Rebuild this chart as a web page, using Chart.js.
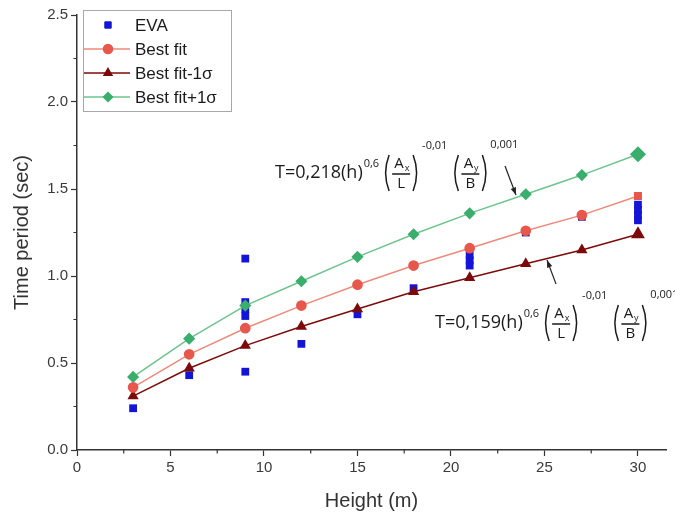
<!DOCTYPE html>
<html>
<head>
<meta charset="utf-8">
<script src="https://cdn.jsdelivr.net/npm/chart.js@4.4.1/dist/chart.umd.min.js"></script>
<style>
  html, body { margin: 0; padding: 0; background: #fff; }
  #wrap { width: 675px; height: 515px; position: relative; }
</style>
</head>
<body>
<div id="wrap"><canvas id="period-chart"></canvas></div>
<script>
const heights = [3, 6, 9, 12, 15, 18, 21, 24, 27, 30];
const bestFit = [0.36, 0.55, 0.7, 0.83, 0.95, 1.06, 1.16, 1.26, 1.35, 1.46];
const bestFitMinus = [0.31, 0.47, 0.6, 0.71, 0.81, 0.91, 0.99, 1.07, 1.15, 1.24];
const bestFitPlus = [0.42, 0.64, 0.83, 0.97, 1.11, 1.24, 1.36, 1.47, 1.58, 1.7];
const evaHeights = [3, 6, 9, 9, 9, 9, 9, 12, 15, 18, 21, 21, 21, 24, 27, 30, 30, 30, 30];
const evaPeriods = [0.24, 0.43, 1.1, 0.85, 0.81, 0.77, 0.45, 0.61, 0.78, 0.93, 1.12, 1.09, 1.06, 1.25, 1.34, 1.41, 1.38, 1.35, 1.32];
const xTicks = [0, 5, 10, 15, 20, 25, 30];
const yTicks = [0, 0.5, 1, 1.5, 2, 2.5];

const toPoints = (xs, ys) => xs.map((x, i) => ({ x: x, y: ys[i] }));

const evaBlue = "#1414d8";
const fitRed = "#e8574c";
const fitRedLine = "#ee8a7c";
const minusRed = "#7d0a0a";
const plusGreen = "#3aae6c";
const plusGreenLine = "#6cc48f";

// legend entries drawn by hand inside the plot (line + marker like Origin)
const legendItems = [
  { label: "EVA", style: "rect", color: evaBlue, line: null },
  { label: "Best fit", style: "circle", color: fitRed, line: fitRedLine },
  { label: "Best fit-1σ", style: "triangle", color: minusRed, line: minusRed },
  { label: "Best fit+1σ", style: "rectRot", color: plusGreen, line: plusGreenLine },
];

const drawParenFrac = (ctx, x, y, top, sub, bottom) => {
  ctx.lineWidth = 1.5;
  ctx.beginPath();
  ctx.moveTo(x + 6, y - 18);
  ctx.quadraticCurveTo(x - 1, y, x + 6, y + 18);
  ctx.stroke();
  const cx = x + 18;
  ctx.textAlign = "center";
  ctx.textBaseline = "middle";
  ctx.font = '15px "Open Sans"';
  ctx.fillText(top, cx - 2, y - 9);
  ctx.font = '9px "Open Sans"';
  ctx.fillText(sub, cx + 6, y - 5);
  ctx.beginPath();
  ctx.moveTo(cx - 9, y + 1);
  ctx.lineTo(cx + 9, y + 1);
  ctx.stroke();
  ctx.font = '15px "Open Sans"';
  ctx.fillText(bottom, cx, y + 11);
  ctx.beginPath();
  ctx.moveTo(x + 30, y - 18);
  ctx.quadraticCurveTo(x + 37, y, x + 30, y + 18);
  ctx.stroke();
  return 37;
};

const drawFormula = (ctx, x0, y0, coef) => {
  ctx.save();
  ctx.fillStyle = "#1a1a1a";
  ctx.strokeStyle = "#1a1a1a";
  ctx.textAlign = "left";
  ctx.textBaseline = "middle";
  ctx.font = '18px "Open Sans"';
  const main = `T=${coef}(h)`;
  ctx.fillText(main, x0, y0);
  let x = x0 + ctx.measureText(main).width + 1;
  ctx.font = '11px "Open Sans"';
  ctx.fillText("0,6", x, y0 - 9);
  x += ctx.measureText("0,6").width + 4;
  x += drawParenFrac(ctx, x, y0, "A", "x", "L") + 2;
  ctx.textAlign = "left";
  ctx.font = '11px "Open Sans"';
  ctx.fillText("-0,01", x, y0 - 27);
  x += ctx.measureText("-0,01").width + 5;
  x += drawParenFrac(ctx, x, y0, "A", "y", "B") + 1;
  ctx.textAlign = "left";
  ctx.font = '11px "Open Sans"';
  ctx.fillText("0,001", x, y0 - 28);
  ctx.restore();
};

const drawArrow = (ctx, x1, y1, x2, y2) => {
  const ang = Math.atan2(y2 - y1, x2 - x1);
  ctx.save();
  ctx.strokeStyle = "#222";
  ctx.fillStyle = "#222";
  ctx.lineWidth = 1.2;
  ctx.beginPath();
  ctx.moveTo(x1, y1);
  ctx.lineTo(x2, y2);
  ctx.stroke();
  ctx.beginPath();
  ctx.moveTo(x2, y2);
  ctx.lineTo(x2 - 8 * Math.cos(ang - 0.35), y2 - 8 * Math.sin(ang - 0.35));
  ctx.lineTo(x2 - 8 * Math.cos(ang + 0.35), y2 - 8 * Math.sin(ang + 0.35));
  ctx.closePath();
  ctx.fill();
  ctx.restore();
};

const extrasPlugin = {
  id: "extras",
  afterDraw: (chart) => {
    const ctx = chart.ctx;
    const xs = chart.scales.x;
    const ys = chart.scales.y;
    const area = chart.chartArea;

    // minor ticks
    ctx.save();
    ctx.strokeStyle = "#333";
    ctx.lineWidth = 1.2;
    ctx.beginPath();
    for (let v = 2.5; v < 31; v += 5) {
      const px = xs.getPixelForValue(v);
      ctx.moveTo(px, area.bottom);
      ctx.lineTo(px, area.bottom + 3.5);
    }
    for (let v = 0.25; v < 2.5; v += 0.5) {
      const py = ys.getPixelForValue(v);
      ctx.moveTo(area.left, py);
      ctx.lineTo(area.left - 3.5, py);
    }
    ctx.stroke();
    ctx.restore();

    // legend box
    ctx.save();
    ctx.strokeStyle = "#a8a8a8";
    ctx.lineWidth = 1;
    ctx.strokeRect(83.5, 10.5, 148, 101);
    legendItems.forEach((item, i) => {
      const y = 25 + i * 24;
      if (item.line) {
        ctx.strokeStyle = item.line;
        ctx.lineWidth = 1.5;
        ctx.beginPath();
        ctx.moveTo(84, y);
        ctx.lineTo(130, y);
        ctx.stroke();
      }
      ctx.fillStyle = item.color;
      ctx.strokeStyle = item.color;
      Chart.helpers.drawPoint(ctx, { pointStyle: item.style, radius: 4.5, borderWidth: 1 }, 108, y);
      ctx.fillStyle = "#1a1a1a";
      ctx.font = '17px "Liberation Sans", Arial';
      ctx.textAlign = "left";
      ctx.textBaseline = "middle";
      ctx.fillText(item.label, 135, y + 1);
    });
    ctx.restore();

    // formulas and arrows
    drawFormula(ctx, 275, 173, "0,218");
    drawArrow(ctx, 505, 166, 516, 195);
    drawFormula(ctx, 435, 323, "0,159");
    drawArrow(ctx, 556, 284, 547, 260);
  },
};

const ctx = document.getElementById("period-chart");
new Chart(ctx, {
  type: "line",
  data: {
    datasets: [
      {
        label: "EVA",
        data: toPoints(evaHeights, evaPeriods),
        showLine: false,
        pointStyle: "rect",
        pointRadius: 5.5,
        backgroundColor: evaBlue,
        borderColor: evaBlue,
        borderWidth: 0,
        order: 4,
      },
      {
        label: "Best fit",
        data: toPoints(heights, bestFit),
        borderColor: fitRedLine,
        borderWidth: 1.5,
        pointStyle: heights.map((h) => (h === 30 ? "rect" : "circle")),
        pointRadius: 4.6,
        pointBackgroundColor: fitRed,
        pointBorderColor: fitRed,
        order: 2,
      },
      {
        label: "Best fit-1σ",
        data: toPoints(heights, bestFitMinus),
        borderColor: minusRed,
        borderWidth: 1.5,
        pointStyle: "triangle",
        pointRadius: heights.map((h) => (h === 30 ? 6.5 : 5)),
        pointBackgroundColor: minusRed,
        pointBorderColor: minusRed,
        order: 3,
      },
      {
        label: "Best fit+1σ",
        data: toPoints(heights, bestFitPlus),
        borderColor: plusGreenLine,
        borderWidth: 1.5,
        pointStyle: "rectRot",
        pointRadius: heights.map((h) => (h === 30 ? 7 : 5)),
        pointBackgroundColor: plusGreen,
        pointBorderColor: plusGreen,
        order: 1,
      },
    ],
  },
  options: {
    responsive: true,
    maintainAspectRatio: false,
    animation: false,
    layout: { padding: { top: 15, right: 9, left: 0, bottom: 0 } },
    plugins: {
      legend: { display: false },
      tooltip: { enabled: false },
    },
    scales: {
      x: {
        type: "linear",
        min: 0,
        max: 31.5,
        afterFit: (scale) => {
          scale.height = 65;
        },
        afterBuildTicks: (scale) => {
          scale.ticks = xTicks.map((v) => ({ value: v }));
        },
        border: { color: "#333", width: 1.5 },
        grid: { drawOnChartArea: false, tickLength: 6, color: "#333", tickWidth: 1.2 },
        ticks: {
          color: "#3a3a3a",
          font: { size: 15, family: '"Liberation Sans", Arial' },
          padding: 3,
          maxRotation: 0,
        },
        title: {
          display: true,
          text: "Height (m)",
          color: "#333",
          font: { size: 20, family: '"Liberation Sans", Arial' },
          padding: { top: 0, bottom: 2 },
        },
      },
      y: {
        type: "linear",
        min: 0,
        max: 2.5,
        afterFit: (scale) => {
          scale.width = 77;
        },
        afterBuildTicks: (scale) => {
          scale.ticks = yTicks.map((v) => ({ value: v }));
        },
        border: { color: "#333", width: 1.5 },
        grid: { drawOnChartArea: false, tickLength: 6, color: "#333", tickWidth: 1.2 },
        ticks: {
          color: "#3a3a3a",
          font: { size: 15, family: '"Liberation Sans", Arial' },
          padding: 3,
          callback: (value) => value.toFixed(1),
        },
        title: {
          display: true,
          text: "Time period (sec)",
          color: "#333",
          font: { size: 20, family: '"Liberation Sans", Arial' },
          padding: { top: 10, bottom: 0 },
        },
      },
    },
  },
  plugins: [extrasPlugin],
});
</script>
</body>
</html>
